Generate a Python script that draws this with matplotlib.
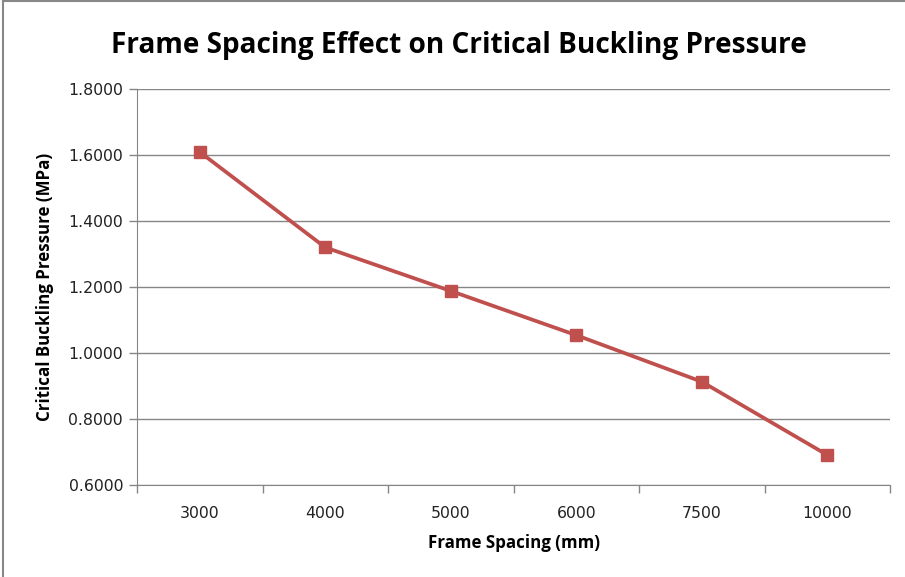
import matplotlib
matplotlib.use("Agg")
import matplotlib.pyplot as plt
from matplotlib.lines import Line2D
from matplotlib.ticker import FixedLocator, FormatStrFormatter

categories = ["3000", "4000", "5000", "6000", "7500", "10000"]
pressure = [1.609, 1.320, 1.188, 1.054, 0.913, 0.691]
y_ticks = [0.6, 0.8, 1.0, 1.2, 1.4, 1.6, 1.8]

title = "Frame Spacing Effect on Critical Buckling Pressure"
xlabel = "Frame Spacing (mm)"
ylabel = "Critical Buckling Pressure (MPa)"

plt.rcParams['font.family'] = ['Open Sans', 'DejaVu Sans']

W, H = 905, 577
fig = plt.figure(figsize=(W / 100, H / 100), dpi=100)
ax = fig.add_axes([137 / W, 1 - 485 / H, (890 - 137) / W, (485 - 89) / H])

x = list(range(len(categories)))
ax.plot(x, pressure, color="#C0504D", lw=2.7, marker="s", markersize=8,
        markerfacecolor="#C0504D", markeredgecolor="#C0504D", zorder=3)

ax.set_xlim(-0.5, len(categories) - 0.5)
ax.set_ylim(0.6, 1.8)
ax.yaxis.set_major_locator(FixedLocator(y_ticks))
ax.yaxis.set_major_formatter(FormatStrFormatter("%.4f"))
ax.set_xticks(x)
ax.set_xticklabels(categories)
ax.xaxis.set_minor_locator(FixedLocator([i + 0.5 for i in range(-1, len(categories))]))
ax.tick_params(axis="x", which="major", length=0, pad=15, colors="#222222")
ax.tick_params(axis="x", which="minor", length=6, width=1, color="#868686")
ax.tick_params(axis="y", length=6, width=1, color="#868686", labelcolor="#222222", pad=4)
for lab in ax.get_xticklabels() + ax.get_yticklabels():
    lab.set_fontfamily("DejaVu Sans")
    lab.set_fontsize(11.3)

ax.grid(axis="y", color="#868686", lw=1)
ax.set_axisbelow(True)
for s in ["top", "right"]:
    ax.spines[s].set_visible(False)
ax.spines["left"].set_color("#868686")
ax.spines["bottom"].set_color("#868686")

fig.text(459 / W, 1 - 45 / H, title, ha="center", va="center",
         fontsize=20.2, fontweight="bold")
fig.text(514 / W, 1 - 543 / H, xlabel, ha="center", va="center",
         fontsize=12.2, fontweight="bold")
fig.text(45 / W, 1 - 287 / H, ylabel, ha="center", va="center",
         rotation=90, fontsize=12.2, fontweight="bold")

# chart-area border (top and left visible)
fig.add_artist(Line2D([3 / W, 3 / W], [0, 1 - 1 / H], transform=fig.transFigure,
                      color="#888888", lw=1.5))
fig.add_artist(Line2D([3 / W, 1], [1 - 1 / H, 1 - 1 / H], transform=fig.transFigure,
                      color="#888888", lw=1.5))

fig.savefig("out.png", dpi=100)
